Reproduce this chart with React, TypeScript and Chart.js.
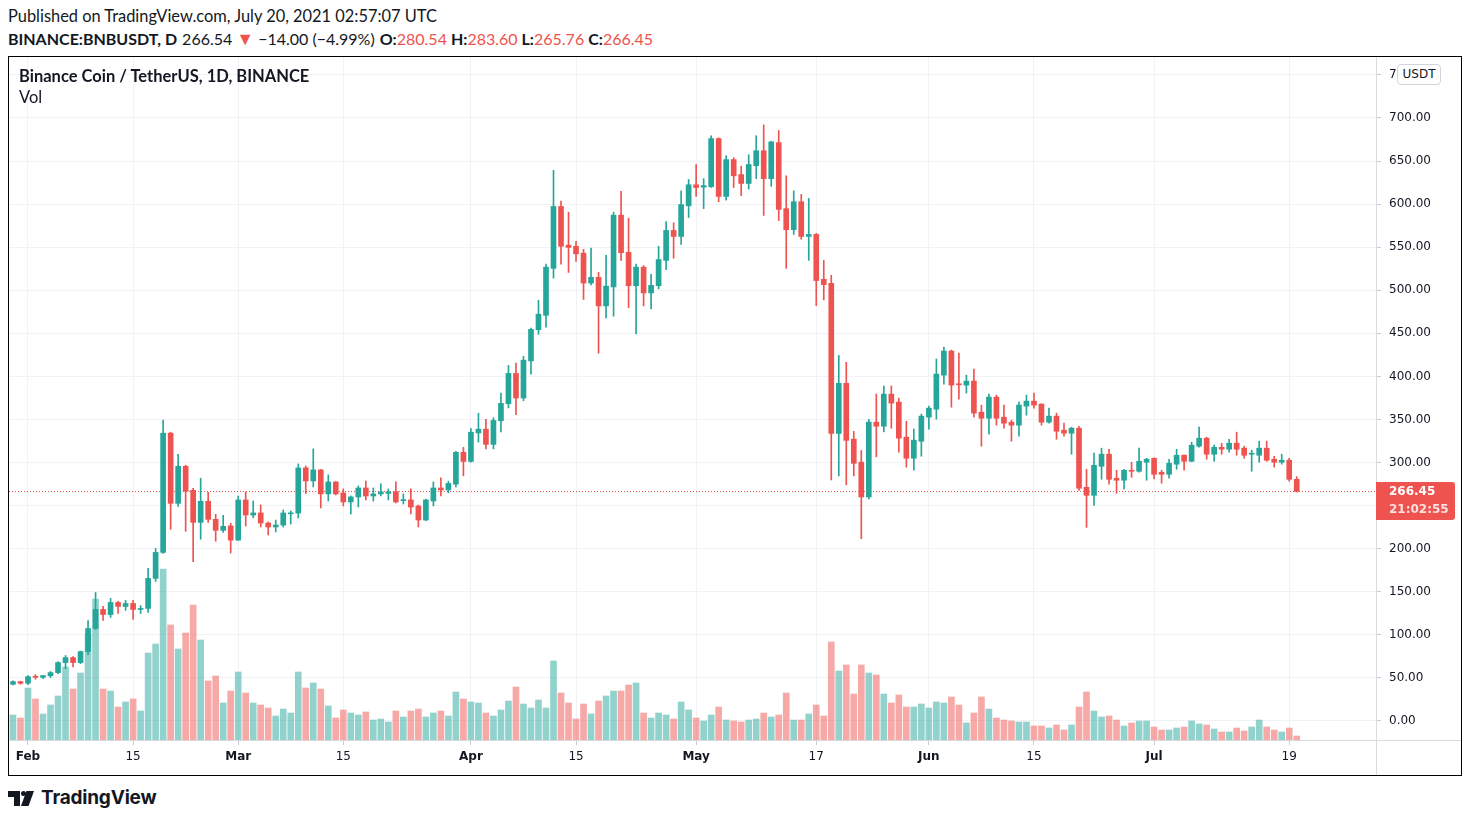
import React, { useEffect, useRef } from "react";
import { Chart, registerables } from "chart.js";

Chart.register(...registerables);

// ---- data (BNB/USDT daily, 2021-01-30 .. 2021-07-20) ----
const firstDate = "2021-01-30"; // first candle, 2 days before Feb 1
const FIRST_DAY = -2; // day index of first candle relative to Feb 1

const opens = [
  42.6, 45.7,
  43.8, 51.5, 50.7, 52.5, 56.2, 67.8, 73.6, 67.8, 80.6, 107.4, 129.5, 123.6, 137.6, 133.0, 136.4, 129.5, 130.7, 165.5, 195.7, 334.1, 252.7, 295.7, 267.8, 230.6, 255.0, 234.1, 221.3, 226.5,
  210.0, 256.6, 239.1, 241.5, 229.8, 225.2, 227.5, 240.5, 241.3, 293.8, 278.7, 291.5, 263.6, 277.5, 264.7, 254.3, 260.1, 270.5, 261.2, 263.6, 264.2, 266.3, 255.8, 256.6, 249.6, 233.3, 255.4, 270.5, 268.3, 274.9, 311.9,
  301.3, 334.4, 338.8, 321.1, 348.5, 368.3, 403.5, 374.9, 418.0, 454.2, 470.9, 525.5, 597.3, 552.4, 551.1, 543.2, 508.4, 515.0, 481.9, 503.9, 587.2, 544.0, 505.3, 526.9, 496.9, 505.3, 534.7, 569.5, 562.5, 598.1,
  622.5, 619.7, 620.2, 676.1, 608.9, 651.7, 634.3, 624.0, 644.6, 662.0, 629.6, 671.4, 594.8, 570.4, 602.8, 562.5, 564.8, 512.7, 508.0, 333.8, 392.0, 327.2, 300.5, 260.1, 346.9, 342.2, 379.5, 370.2, 329.5, 305.0, 324.8,
  352.7, 362.0, 401.5, 429.5, 391.5, 389.9, 394.6, 358.5, 351.5, 376.0, 352.7, 346.9, 343.4, 365.5, 371.3, 367.8, 346.9, 353.9, 337.6, 334.1, 339.9, 271.3, 262.0, 295.7, 309.7, 281.8, 279.5, 291.1, 289.9, 300.4,
  305.0, 288.8, 286.4, 298.1, 308.5, 301.5, 319.0, 328.3, 309.7, 317.8, 315.5, 322.5, 316.7, 309.7, 308.5, 316.7, 303.9, 300.4, 302.7, 280.54,
];
const highs = [
  46.5, 46.2,
  52.7, 53.9, 52.7, 57.4, 69.0, 76.0, 74.8, 81.2, 116.7, 149.2, 133.0, 142.3, 138.8, 140.0, 140.0, 134.0, 177.1, 200.3, 349.2, 335.3, 309.7, 296.9, 270.2, 281.8, 265.5, 239.9, 238.8, 229.5,
  261.2, 265.9, 255.4, 250.8, 231.0, 233.3, 245.0, 243.8, 298.4, 296.1, 315.9, 292.0, 285.7, 277.9, 269.4, 261.2, 272.9, 278.7, 270.5, 275.2, 269.4, 277.5, 263.6, 269.4, 250.8, 257.5, 277.5, 282.2, 278.4, 313.0, 317.6,
  339.6, 357.3, 350.2, 352.0, 380.6, 412.8, 415.4, 423.3, 456.0, 488.5, 530.4, 639.2, 603.5, 590.7, 556.8, 547.6, 548.9, 520.7, 540.5, 590.7, 615.0, 583.7, 530.4, 528.6, 518.5, 551.0, 579.8, 578.4, 615.5, 628.6,
  646.0, 629.6, 679.4, 677.0, 656.3, 654.0, 644.1, 657.3, 679.4, 692.0, 673.0, 685.5, 632.9, 615.5, 611.3, 606.6, 566.0, 534.7, 517.4, 424.4, 416.4, 336.2, 314.1, 350.2, 379.5, 388.8, 388.8, 374.8, 348.0, 338.8, 356.2,
  365.5, 420.2, 434.1, 430.6, 427.1, 401.5, 408.5, 366.7, 379.5, 378.3, 366.7, 349.2, 370.2, 378.3, 380.6, 368.5, 363.2, 357.4, 345.7, 341.1, 342.2, 292.2, 310.9, 316.7, 315.5, 291.1, 292.2, 300.4, 316.7, 305.0,
  305.5, 291.1, 303.9, 315.5, 309.0, 323.6, 341.1, 329.5, 320.2, 322.5, 327.1, 335.3, 319.0, 314.3, 324.8, 324.8, 307.4, 309.7, 305.0, 283.6,
];
const lows = [
  42.0, 42.6,
  42.2, 48.5, 49.0, 50.4, 55.0, 60.8, 62.7, 66.6, 77.1, 106.2, 116.7, 120.2, 124.8, 128.4, 117.8, 124.8, 126.0, 162.0, 194.6, 222.5, 249.2, 220.2, 185.0, 211.0, 230.6, 208.7, 219.0, 195.0,
  209.5, 226.4, 236.0, 225.2, 215.9, 219.4, 225.2, 228.7, 235.7, 264.0, 271.7, 247.3, 255.4, 262.4, 249.6, 240.3, 248.4, 256.6, 255.4, 261.2, 256.6, 253.1, 251.9, 240.3, 225.2, 232.5, 249.6, 261.2, 264.8, 271.8, 284.6,
  300.4, 323.8, 315.9, 315.9, 335.7, 363.4, 355.5, 371.8, 402.6, 448.9, 457.3, 514.1, 530.4, 520.7, 533.5, 489.4, 506.2, 426.9, 467.8, 470.0, 534.8, 479.7, 449.3, 481.9, 478.4, 501.6, 523.9, 537.1, 553.1, 584.5,
  608.9, 594.8, 619.5, 602.8, 604.7, 619.3, 609.9, 617.4, 629.6, 586.9, 620.7, 580.8, 525.4, 564.8, 559.2, 534.7, 482.2, 488.8, 279.8, 284.5, 274.2, 284.5, 211.7, 257.7, 306.6, 335.7, 339.9, 312.0, 294.6, 291.1, 307.4,
  338.8, 350.4, 391.1, 364.3, 373.6, 380.6, 352.7, 319.0, 332.9, 343.4, 339.9, 324.8, 330.6, 355.0, 363.2, 343.4, 345.7, 327.1, 330.6, 309.7, 267.8, 224.8, 250.4, 280.6, 274.8, 264.3, 269.0, 282.9, 288.8, 279.5,
  281.1, 276.0, 281.8, 292.2, 291.1, 301.0, 317.8, 303.9, 301.5, 309.7, 312.0, 308.5, 305.0, 289.9, 300.4, 301.5, 294.6, 298.1, 278.3, 265.76,
];
const closes = [
  45.7, 43.8,
  51.5, 50.7, 52.7, 56.2, 67.8, 73.6, 67.8, 80.6, 107.4, 129.5, 123.6, 137.6, 133.0, 136.4, 129.5, 130.7, 165.5, 195.7, 334.1, 252.7, 295.7, 266.7, 230.6, 255.0, 234.1, 221.3, 226.0, 210.0,
  256.6, 239.1, 241.5, 229.8, 225.2, 227.5, 241.5, 241.3, 293.8, 278.7, 291.5, 263.6, 277.5, 263.6, 254.3, 260.1, 270.5, 261.2, 263.6, 265.9, 266.0, 254.3, 256.9, 248.4, 233.3, 256.6, 270.5, 268.2, 275.8, 311.9, 301.3,
  335.2, 338.8, 321.1, 348.9, 368.7, 403.5, 374.9, 418.9, 454.6, 472.2, 526.9, 597.3, 551.1, 549.8, 542.3, 508.4, 515.0, 481.9, 504.8, 587.2, 543.6, 505.3, 526.9, 496.9, 505.7, 535.7, 569.5, 562.5, 599.5, 622.5,
  619.3, 621.6, 676.1, 609.0, 651.7, 632.9, 624.0, 646.0, 662.0, 629.6, 672.3, 593.9, 570.4, 602.8, 562.5, 564.8, 511.3, 506.6, 333.8, 392.0, 325.8, 299.1, 260.1, 347.0, 342.2, 379.5, 369.0, 328.3, 305.0, 326.0, 353.9,
  363.2, 402.7, 429.5, 389.9, 390.3, 394.6, 357.4, 351.5, 376.0, 351.5, 345.7, 343.4, 366.7, 371.3, 366.7, 346.9, 353.9, 336.4, 334.1, 339.9, 270.2, 262.0, 296.9, 309.7, 280.6, 279.5, 291.1, 289.9, 301.5, 303.9,
  286.4, 286.4, 299.2, 308.5, 301.5, 320.2, 328.3, 309.7, 317.8, 315.5, 322.5, 315.5, 308.5, 310.5, 316.7, 302.7, 300.4, 302.7, 280.6, 266.45,
];
// volume, millions of BNB
const volumes = [
  2.5, 2.2,
  5.2, 4.1, 2.6, 3.5, 4.4, 7.3, 5.1, 6.7, 10.6, 14.1, 5.1, 4.9, 3.3, 3.8, 4.1, 2.9, 8.7, 9.6, 17.1, 11.5, 9.1, 10.7, 13.5, 10.0, 5.9, 6.4, 3.7, 4.9,
  6.8, 4.7, 3.7, 3.5, 3.2, 2.4, 3.1, 2.7, 6.8, 5.2, 5.7, 5.1, 3.4, 2.2, 3.0, 2.7, 2.5, 2.8, 2.0, 2.1, 1.8, 2.9, 2.3, 2.9, 3.1, 2.3, 2.7, 2.9, 2.4, 4.8, 4.1,
  3.8, 3.7, 2.7, 2.4, 3.0, 3.9, 5.3, 3.6, 3.2, 4.0, 3.2, 7.9, 4.7, 3.7, 2.1, 3.6, 2.6, 3.9, 4.4, 4.9, 4.9, 5.5, 5.7, 2.7, 2.2, 2.7, 2.5, 2.1, 3.8, 3.0,
  2.2, 1.9, 2.5, 3.3, 2.0, 1.9, 1.8, 2.0, 2.1, 2.7, 2.3, 2.5, 4.7, 2.0, 2.0, 2.6, 3.5, 2.4, 9.8, 6.9, 7.5, 4.6, 7.5, 6.7, 6.5, 4.6, 3.7, 4.5, 3.3, 3.3, 3.6,
  3.2, 3.8, 3.7, 4.3, 3.5, 1.7, 2.7, 4.3, 3.1, 2.2, 2.0, 1.9, 1.8, 1.8, 1.4, 1.4, 1.2, 1.5, 1.0, 1.5, 3.3, 4.8, 2.9, 2.3, 2.4, 2.0, 1.4, 1.7, 1.9, 1.9,
  1.3, 1.0, 1.0, 1.2, 1.3, 1.9, 1.6, 1.5, 1.1, 0.8, 0.8, 1.2, 0.9, 1.3, 2.0, 1.3, 1.0, 0.8, 1.2, 0.4,
];

// time axis: day offsets from Feb 1 and their labels
const tickDays = [0, 14, 28, 42, 59, 73, 89, 105, 120, 134, 150, 168];
const tickLabels = ["Feb", "15", "Mar", "15", "Apr", "15", "May", "17", "Jun", "15", "Jul", "19"];
// price axis ticks
const priceTicks = [0, 50, 100, 150, 200, 250, 300, 350, 400, 450, 500, 550, 600, 650, 700, 750];

const X_MIN = -2.53;
const X_MAX = 179.56;
const Y_MIN = -22.06;
const Y_MAX = 770.81;
const VOL_MAX = 68.3;

const UP = "#26a69a";
const DOWN = "#ef5350";
const UP_VOL = "rgba(38,166,154,0.5)";
const DOWN_VOL = "rgba(239,83,80,0.5)";
const TEXT = "#131722";
const GRID = "#f0f2f6";
const AXIS_LINE = "#dadbe0";
const AXIS_FONT = "DejaVu Sans";

export default function App() {
  const canvasRef = useRef<HTMLCanvasElement>(null);

  useEffect(() => {
    document.body.style.margin = "0";
    const canvas = canvasRef.current!;
    const n = closes.length;
    const xs = closes.map((_, i) => i + FIRST_DAY);
    const up = closes.map((c, i) => c >= opens[i]);
    const wickData = xs.map((x, i) => ({ x, y: [lows[i], highs[i]] }));
    const bodyData = xs.map((x, i) => ({
      x,
      y: [Math.min(opens[i], closes[i]), Math.max(opens[i], closes[i])],
    }));
    const volData = xs.map((x, i) => ({ x, y: volumes[i] }));
    const lastClose = closes[n - 1];
    const lastColor = up[n - 1] ? UP : DOWN;

    const pricePlugin = {
      id: "priceLine",
      beforeDatasetsDraw(chart: any) {
        const { ctx, chartArea, scales } = chart;
        const y = Math.round(scales.y.getPixelForValue(lastClose)) + 0.5;
        ctx.save();
        ctx.strokeStyle = lastColor;
        ctx.lineWidth = 1;
        ctx.setLineDash([1, 2]);
        ctx.beginPath();
        ctx.moveTo(chartArea.left, y);
        ctx.lineTo(chartArea.right, y);
        ctx.stroke();
        ctx.restore();
      },
      afterDraw(chart: any) {
        const { ctx, chartArea, scales, width, height } = chart;
        ctx.save();
        ctx.strokeStyle = AXIS_LINE;
        ctx.lineWidth = 1;
        ctx.beginPath();
        ctx.moveTo(chartArea.right, chartArea.bottom + 0.5);
        ctx.lineTo(width, chartArea.bottom + 0.5);
        ctx.moveTo(chartArea.right + 0.5, chartArea.bottom);
        ctx.lineTo(chartArea.right + 0.5, height);
        ctx.stroke();
        const y = Math.round(scales.y.getPixelForValue(lastClose)) + 0.5;
        const x0 = chartArea.right;
        ctx.fillStyle = lastColor;
        ctx.beginPath();
        (ctx as any).roundRect(x0, y - 9.5, 79, 38, [0, 3, 3, 0]);
        ctx.fill();
        ctx.textBaseline = "middle";
        ctx.textAlign = "left";
        ctx.fillStyle = "#ffffff";
        ctx.font = `bold 12px "${AXIS_FONT}"`;
        ctx.fillText(lastClose.toFixed(2), x0 + 13, y + 0.5);
        ctx.fillStyle = "rgba(255,255,255,0.82)";
        ctx.fillText("21:02:55", x0 + 13, y + 18.5);
        ctx.restore();
      },
    };

    const chart = new Chart(canvas, {
      type: "bar",
      data: {
        datasets: [
          {
            label: "Body",
            data: bodyData as any,
            backgroundColor: up.map((u) => (u ? UP : DOWN)),
            barThickness: 5,
            minBarLength: 1,
            grouped: false,
            yAxisID: "y",
            order: 1,
          },
          {
            label: "Wick",
            data: wickData as any,
            backgroundColor: up.map((u) => (u ? UP : DOWN)),
            barThickness: 1,
            minBarLength: 1,
            grouped: false,
            yAxisID: "y",
            order: 2,
          },
          {
            label: "Vol",
            data: volData as any,
            backgroundColor: up.map((u) => (u ? UP_VOL : DOWN_VOL)),
            barThickness: 6,
            grouped: false,
            yAxisID: "yv",
            order: 3,
          },
        ],
      },
      options: {
        animation: false,
        responsive: false,
        maintainAspectRatio: false,
        layout: { padding: 0, autoPadding: false },
        plugins: { legend: { display: false }, tooltip: { enabled: false } },
        scales: {
          x: {
            type: "linear",
            min: X_MIN,
            max: X_MAX,
            offset: false,
            grid: { offset: false, color: GRID, drawTicks: true, tickLength: 5, tickColor: "#c8cad0" },
            border: { display: true, color: AXIS_LINE },
            afterBuildTicks: (s: any) => {
              s.ticks = tickDays.map((v) => ({ value: v }));
            },
            afterFit: (s: any) => {
              s.height = 35;
              s.paddingLeft = 0;
              s.paddingRight = 0;
              s.paddingTop = 0;
              s.paddingBottom = 0;
            },
            ticks: {
              autoSkip: false,
              maxRotation: 0,
              padding: 5,
              color: TEXT,
              font: (ctx: any) => ({
                family: AXIS_FONT,
                size: 12,
                weight: /^[A-Za-z]/.test(tickLabels[ctx.index] || "") ? "bold" : "normal",
              }),
              callback: (_v: any, i: number) => tickLabels[i],
            },
          },
          y: {
            type: "linear",
            position: "right",
            min: Y_MIN,
            max: Y_MAX,
            grid: { color: GRID, drawTicks: true, tickLength: 5, tickColor: "#c8cad0" },
            border: { display: true, color: AXIS_LINE },
            afterBuildTicks: (s: any) => {
              s.ticks = priceTicks.map((v) => ({ value: v }));
            },
            afterFit: (s: any) => {
              s.width = 85;
              s.paddingTop = 0;
              s.paddingBottom = 0;
              s.paddingLeft = 0;
              s.paddingRight = 0;
            },
            ticks: {
              padding: 8,
              color: TEXT,
              font: { family: AXIS_FONT, size: 12 },
              callback: (v: any) => Number(v).toFixed(2),
            },
          },
          yv: {
            type: "linear",
            display: false,
            min: 0,
            max: VOL_MAX,
          },
        },
      },
      plugins: [pricePlugin],
    } as any);
    return () => chart.destroy();
  }, []);

  const hdr: React.CSSProperties = {
    position: "absolute",
    left: 8,
    whiteSpace: "nowrap",
    fontFamily: "Lato, sans-serif",
    fontSize: 16.4,
    lineHeight: "20px",
    color: TEXT,
  };

  return (
    <div style={{ position: "relative", width: 1470, height: 822, background: "#fff", overflow: "hidden" }}>
      <div style={{ ...hdr, top: 6 }}>Published on TradingView.com, July 20, 2021 02:57:07 UTC</div>
      <div style={{ ...hdr, top: 28, fontSize: 16 }}>
        <b>BINANCE:BNBUSDT, D</b>
        <span style={{ marginLeft: 5 }}>266.54</span>
        <span style={{ color: DOWN, marginLeft: 4, fontSize: 18 }}>▼</span>
        <span style={{ marginLeft: 4 }}>−14.00 (−4.99%)</span>
        <b style={{ marginLeft: 5 }}>O:</b>
        <span style={{ color: DOWN }}>280.54</span>
        <b style={{ marginLeft: 4 }}>H:</b>
        <span style={{ color: DOWN }}>283.60</span>
        <b style={{ marginLeft: 4 }}>L:</b>
        <span style={{ color: DOWN }}>265.76</span>
        <b style={{ marginLeft: 4 }}>C:</b>
        <span style={{ color: DOWN }}>266.45</span>
      </div>

      <div
        style={{
          position: "absolute",
          left: 8,
          top: 56,
          width: 1454,
          height: 720,
          border: "1px solid #000",
          boxSizing: "border-box",
        }}
      />
      <div style={{ position: "absolute", left: 9, top: 57, width: 1452, height: 718 }}>
        <canvas ref={canvasRef} width={1452} height={718} style={{ width: 1452, height: 718, display: "block" }} />
      </div>

      <div
        style={{
          position: "absolute",
          left: 19,
          top: 66,
          fontFamily: "Lato, sans-serif",
          fontWeight: 700,
          fontSize: 16.5,
          lineHeight: "20px",
          color: TEXT,
          whiteSpace: "nowrap",
          zIndex: 2,
        }}
      >
        Binance Coin / TetherUS, 1D, BINANCE
      </div>
      <div
        style={{
          position: "absolute",
          left: 19,
          top: 87,
          fontFamily: "Lato, sans-serif",
          fontSize: 16.5,
          lineHeight: "20px",
          color: TEXT,
          zIndex: 2,
        }}
      >
        Vol
      </div>

      <div
        style={{
          position: "absolute",
          left: 1397,
          top: 64,
          width: 44,
          height: 21,
          boxSizing: "border-box",
          border: "1px solid #d1d4dc",
          borderRadius: 4,
          background: "#fff",
          fontFamily: AXIS_FONT,
          fontSize: 12,
          lineHeight: "19px",
          textAlign: "center",
          color: TEXT,
          zIndex: 2,
        }}
      >
        USDT
      </div>

      {/* TradingView logo */}
      <div style={{ position: "absolute", left: 8, top: 791, width: 12, height: 6, background: TEXT }} />
      <div style={{ position: "absolute", left: 13.5, top: 791, width: 6.5, height: 15, background: TEXT }} />
      <div style={{ position: "absolute", left: 20.5, top: 791, width: 5, height: 5, borderRadius: "50%", background: TEXT }} />
      <div
        style={{
          position: "absolute",
          left: 21,
          top: 791,
          width: 13,
          height: 15,
          background: TEXT,
          clipPath: "polygon(42% 0, 100% 0, 58% 100%, 0 100%)",
        }}
      />
      <div
        style={{
          position: "absolute",
          left: 41,
          top: 786,
          fontFamily: "Inter, sans-serif",
          fontWeight: 700,
          fontSize: 19,
          lineHeight: "24px",
          color: TEXT,
          whiteSpace: "nowrap",
          letterSpacing: -0.2,
        }}
      >
        TradingView
      </div>
    </div>
  );
}
